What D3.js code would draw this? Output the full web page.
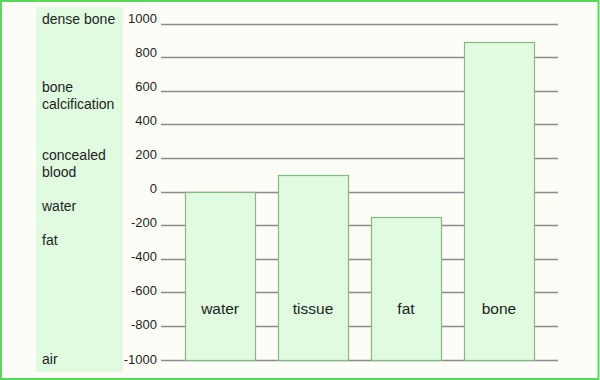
<!DOCTYPE html>
<html>
<head>
<meta charset="utf-8">
<script src="https://cdn.jsdelivr.net/npm/d3@7"></script>
<style>
html,body{margin:0;padding:0;background:#fdfdf7;}
svg{display:block;}
text{font-family:"Liberation Sans",Arial,sans-serif;fill:#1e1e1e;}
</style>
</head>
<body>
<svg id="chart" width="600" height="380"></svg>
<script>
// Data
const categories = ["water", "tissue", "fat", "bone"];
const values = [0, 100, -150, 890];
const tickValues = [1000, 800, 600, 400, 200, 0, -200, -400, -600, -800, -1000];
const annotationTexts = [["dense bone"], ["bone", "calcification"], ["concealed", "blood"], ["water"], ["fat"], ["air"]];
const annotationValues = [1000, 600, 200, -100, -300, -1000];

const W = 600, H = 380;
const svg = d3.select("#chart");

// background + border
svg.append("rect").attr("x", 1).attr("y", 1).attr("width", W - 2.5).attr("height", H - 2)
  .attr("fill", "#fdfdf7").attr("stroke", "#5ad85a").attr("stroke-width", 2);

// left band
svg.append("rect").attr("x", 36).attr("y", 7).attr("width", 87).attr("height", 365)
  .attr("fill", "#e0fbe0");

const y = d3.scaleLinear().domain([-1000, 1000]).range([359.5, 23.5]);
const yLabel = d3.scaleLinear().domain([-1000, 1000]).range([359, 18.5]);
const x = d3.scaleBand().domain(categories).range([162, 557]).padding(0.25);

// gridlines
svg.append("g").selectAll("line").data(tickValues).join("line")
  .attr("x1", 161).attr("x2", 558)
  .attr("y1", d => Math.round(y(d)) + 0.5).attr("y2", d => Math.round(y(d)) + 0.5)
  .attr("stroke", "#8a8a8a").attr("stroke-width", 1.3);

// tick labels
svg.append("g").selectAll("text").data(tickValues).join("text")
  .attr("x", 157).attr("y", d => yLabel(d))
  .attr("text-anchor", "end").attr("dominant-baseline", "central")
  .style("font-size", "13px")
  .text(d => d);

// annotations
const ann = svg.append("g").selectAll("text").data(annotationTexts).join("text")
  .attr("x", 42).attr("y", (d, i) => yLabel(annotationValues[i]))
  .attr("dominant-baseline", "central")
  .style("font-size", "14px");
ann.selectAll("tspan").data(d => d).join("tspan")
  .attr("x", 42).attr("dy", (d, i) => i === 0 ? 0 : 17)
  .text(d => d);

// bars
const data = categories.map((c, i) => ({c, v: values[i]}));
svg.append("g").selectAll("rect").data(data).join("rect")
  .attr("x", d => Math.round(x(d.c)) + 0.5)
  .attr("width", Math.round(x.bandwidth()))
  .attr("y", d => Math.round(y(d.v)) + 0.5)
  .attr("height", d => Math.round(y(-1000)) - Math.round(y(d.v)))
  .attr("fill", "#e0fbe0").attr("stroke", "#86b886").attr("stroke-width", 1.2);

// bar labels
svg.append("g").selectAll("text").data(data).join("text")
  .attr("x", d => x(d.c) + x.bandwidth() / 2)
  .attr("y", 308)
  .attr("text-anchor", "middle").attr("dominant-baseline", "central")
  .style("font-size", "15.5px")
  .text(d => d.c);
</script>
</body>
</html>
